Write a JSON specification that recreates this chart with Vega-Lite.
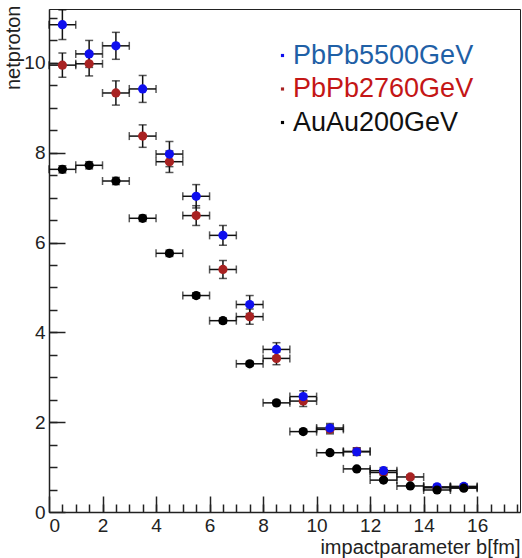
{
  "$schema": "https://vega.github.io/schema/vega-lite/v6.json",
  "autosize": "none",
  "width": 471,
  "height": 503,
  "padding": {"left": 49, "top": 9, "right": 2, "bottom": 46},
  "background": "white",
  "config": {
    "view": {"stroke": "#222", "strokeWidth": 1},
    "font": "Liberation Sans",
    "axis": {"grid": false, "labelFont": "Liberation Sans", "titleFont": "Liberation Sans", "titleFontWeight": "normal", "domainColor": "#222", "tickColor": "#222", "labelColor": "#222", "titleColor": "#222"}
  },
  "data": {
    "values": [
      {"series": "PbPb2760GeV", "b": 0.5, "eb": 0.5, "y": 9.95, "ey": 0.27},
      {"series": "PbPb2760GeV", "b": 1.5, "eb": 0.5, "y": 9.98, "ey": 0.27},
      {"series": "PbPb2760GeV", "b": 2.5, "eb": 0.5, "y": 9.33, "ey": 0.27},
      {"series": "PbPb2760GeV", "b": 3.5, "eb": 0.5, "y": 8.37, "ey": 0.25},
      {"series": "PbPb2760GeV", "b": 4.5, "eb": 0.5, "y": 7.8, "ey": 0.24},
      {"series": "PbPb2760GeV", "b": 5.5, "eb": 0.5, "y": 6.6, "ey": 0.22},
      {"series": "PbPb2760GeV", "b": 6.5, "eb": 0.5, "y": 5.4, "ey": 0.2},
      {"series": "PbPb2760GeV", "b": 7.5, "eb": 0.5, "y": 4.35, "ey": 0.17},
      {"series": "PbPb2760GeV", "b": 8.5, "eb": 0.5, "y": 3.42, "ey": 0.14},
      {"series": "PbPb2760GeV", "b": 9.5, "eb": 0.5, "y": 2.47, "ey": 0.12},
      {"series": "PbPb2760GeV", "b": 10.5, "eb": 0.5, "y": 1.84, "ey": 0.1},
      {"series": "PbPb2760GeV", "b": 11.5, "eb": 0.5, "y": 1.35, "ey": 0.08},
      {"series": "PbPb2760GeV", "b": 12.5, "eb": 0.5, "y": 0.88, "ey": 0.06},
      {"series": "PbPb2760GeV", "b": 13.5, "eb": 0.5, "y": 0.78, "ey": 0.05},
      {"series": "PbPb2760GeV", "b": 14.5, "eb": 0.5, "y": 0.54, "ey": 0.04},
      {"series": "PbPb2760GeV", "b": 15.5, "eb": 0.5, "y": 0.55, "ey": 0.04},
      {"series": "PbPb5500GeV", "b": 0.5, "eb": 0.5, "y": 10.85, "ey": 0.33},
      {"series": "PbPb5500GeV", "b": 1.5, "eb": 0.5, "y": 10.2, "ey": 0.3},
      {"series": "PbPb5500GeV", "b": 2.5, "eb": 0.5, "y": 10.38, "ey": 0.3},
      {"series": "PbPb5500GeV", "b": 3.5, "eb": 0.5, "y": 9.42, "ey": 0.3},
      {"series": "PbPb5500GeV", "b": 4.5, "eb": 0.5, "y": 7.97, "ey": 0.28},
      {"series": "PbPb5500GeV", "b": 5.5, "eb": 0.5, "y": 7.03, "ey": 0.26},
      {"series": "PbPb5500GeV", "b": 6.5, "eb": 0.5, "y": 6.16, "ey": 0.22},
      {"series": "PbPb5500GeV", "b": 7.5, "eb": 0.5, "y": 4.62, "ey": 0.2},
      {"series": "PbPb5500GeV", "b": 8.5, "eb": 0.5, "y": 3.62, "ey": 0.15},
      {"series": "PbPb5500GeV", "b": 9.5, "eb": 0.5, "y": 2.57, "ey": 0.13},
      {"series": "PbPb5500GeV", "b": 10.5, "eb": 0.5, "y": 1.87, "ey": 0.1},
      {"series": "PbPb5500GeV", "b": 11.5, "eb": 0.5, "y": 1.34, "ey": 0.08},
      {"series": "PbPb5500GeV", "b": 12.5, "eb": 0.5, "y": 0.92, "ey": 0.07},
      {"series": "PbPb5500GeV", "b": 14.5, "eb": 0.5, "y": 0.56, "ey": 0.05},
      {"series": "PbPb5500GeV", "b": 15.5, "eb": 0.5, "y": 0.57, "ey": 0.05},
      {"series": "AuAu200GeV", "b": 0.5, "eb": 0.5, "y": 7.63, "ey": 0.08},
      {"series": "AuAu200GeV", "b": 1.5, "eb": 0.5, "y": 7.72, "ey": 0.08},
      {"series": "AuAu200GeV", "b": 2.5, "eb": 0.5, "y": 7.37, "ey": 0.08},
      {"series": "AuAu200GeV", "b": 3.5, "eb": 0.5, "y": 6.54, "ey": 0.07},
      {"series": "AuAu200GeV", "b": 4.5, "eb": 0.5, "y": 5.76, "ey": 0.07},
      {"series": "AuAu200GeV", "b": 5.5, "eb": 0.5, "y": 4.82, "ey": 0.06},
      {"series": "AuAu200GeV", "b": 6.5, "eb": 0.5, "y": 4.26, "ey": 0.06},
      {"series": "AuAu200GeV", "b": 7.5, "eb": 0.5, "y": 3.3, "ey": 0.05},
      {"series": "AuAu200GeV", "b": 8.5, "eb": 0.5, "y": 2.43, "ey": 0.05},
      {"series": "AuAu200GeV", "b": 9.5, "eb": 0.5, "y": 1.79, "ey": 0.04},
      {"series": "AuAu200GeV", "b": 10.5, "eb": 0.5, "y": 1.32, "ey": 0.04},
      {"series": "AuAu200GeV", "b": 11.5, "eb": 0.5, "y": 0.96, "ey": 0.03},
      {"series": "AuAu200GeV", "b": 12.5, "eb": 0.5, "y": 0.71, "ey": 0.03},
      {"series": "AuAu200GeV", "b": 13.5, "eb": 0.5, "y": 0.58, "ey": 0.03},
      {"series": "AuAu200GeV", "b": 14.5, "eb": 0.5, "y": 0.49, "ey": 0.02},
      {"series": "AuAu200GeV", "b": 15.5, "eb": 0.5, "y": 0.53, "ey": 0.02}
    ]
  },
  "resolve": {"axis": {"x": "independent", "y": "independent"}},
  "layer": [
    {
      "mark": {"type": "point", "opacity": 0},
      "encoding": {
        "x": {"field": "b", "type": "quantitative", "scale": {"domain": [0, 17.6], "nice": false, "zero": false},
          "axis": {"orient": "bottom", "values": [0.5,1,1.5,2,2.5,3,3.5,4,4.5,5,5.5,6,6.5,7,7.5,8,8.5,9,9.5,10,10.5,11,11.5,12,12.5,13,13.5,14,14.5,15,15.5,16,16.5,17,17.5], "labels": false, "title": null, "domain": false, "tickSize": -8, "tickWidth": 1.5}},
        "y": {"field": "y", "type": "quantitative", "scale": {"domain": [0, 11.2], "nice": false, "zero": false},
          "axis": {"orient": "left", "values": [0.5,1,1.5,2,2.5,3,3.5,4,4.5,5,5.5,6,6.5,7,7.5,8,8.5,9,9.5,10,10.5,11], "labels": false, "title": null, "domain": false, "tickSize": -8, "tickWidth": 1.5}}
      }
    },
    {
      "mark": {"type": "errorbar", "ticks": {"size": 8, "thickness": 1.5}, "thickness": 1.5, "color": "#111"},
      "encoding": {
        "x": {"field": "b", "type": "quantitative", "axis": null},
        "xError": {"field": "eb"},
        "y": {"field": "y", "type": "quantitative", "axis": null}
      }
    },
    {
      "mark": {"type": "errorbar", "ticks": {"size": 8, "thickness": 1.5}, "thickness": 1.5, "color": "#111"},
      "encoding": {
        "y": {"field": "y", "type": "quantitative", "axis": null},
        "yError": {"field": "ey"},
        "x": {"field": "b", "type": "quantitative", "axis": null}
      }
    },
    {
      "mark": {"type": "point", "filled": true, "shape": "circle", "size": 85, "opacity": 1},
      "encoding": {
        "x": {"field": "b", "type": "quantitative",
          "axis": {"orient": "bottom", "values": [0,2,4,6,8,10,12,14,16], "format": "d", "tickSize": -16, "tickWidth": 1.5, "domainWidth": 1.5, "labelFontSize": 19, "labelPadding": 20, "title": "impactparameter b[fm]", "titleFontSize": 20, "titleAnchor": "end", "titleBaseline": "alphabetic", "titleY": 41, "titleAlign": "right", "titleX": 471}},
        "y": {"field": "y", "type": "quantitative",
          "axis": {"orient": "left", "values": [0,2,4,6,8,10], "format": "d", "tickSize": -16, "tickWidth": 1.5, "domainWidth": 1.5, "labelFontSize": 19, "labelPadding": 20, "title": "netproton", "titleFontSize": 20, "titleAnchor": "end", "titleBaseline": "alphabetic", "titleX": -30, "titleY": -4, "titleAlign": "right", "titleAngle": -90}},
        "color": {"field": "series", "type": "nominal",
          "scale": {"domain": ["PbPb5500GeV", "PbPb2760GeV", "AuAu200GeV"], "range": ["#0f0fee", "#a82222", "#000000"]},
          "legend": {"title": null, "orient": "none", "legendX": 220, "legendY": 33, "padding": 0, "symbolType": "square", "symbolSize": 10, "symbolStrokeWidth": 0, "symbolOpacity": 1, "labelFontSize": 27, "labelFont": "Liberation Sans", "labelOffset": -3, "labelLimit": 400, "rowPadding": 5.5,
            "labelColor": {"expr": "datum.label == 'PbPb5500GeV' ? '#1f60a6' : datum.label == 'PbPb2760GeV' ? '#c41616' : '#111111'"}}}
      }
    }
  ]
}
